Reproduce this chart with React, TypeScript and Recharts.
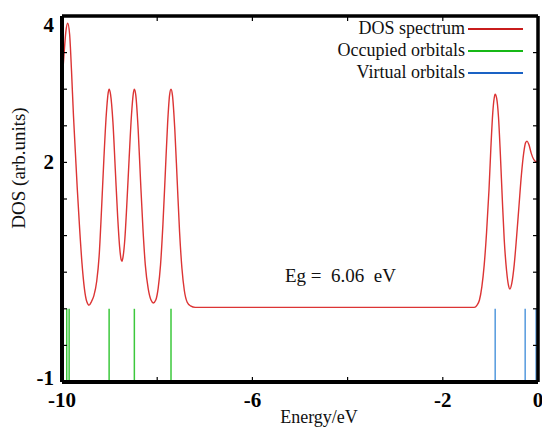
import React from 'react';
import { LineChart, Line, XAxis, YAxis, ReferenceLine } from 'recharts';

const W = 542;
const H = 434;
const SERIF = '"Liberation Serif", "Times New Roman", "DejaVu Serif", serif';

// DOS curve
const dosEnergy = [
  -10.0, -9.96, -9.92, -9.88, -9.84, -9.8, -9.76, -9.72, -9.68, -9.63, -9.58, -9.53, -9.48, -9.43, -9.38,
  -9.33, -9.27, -9.22, -9.17, -9.12, -9.07, -9.03, -9.01, -8.98, -8.93, -8.88, -8.83, -8.79, -8.76, -8.74,
  -8.72, -8.68, -8.64, -8.59, -8.54, -8.5, -8.48, -8.45, -8.4, -8.35, -8.3, -8.25, -8.19, -8.13, -8.08,
  -8.03, -7.98, -7.93, -7.88, -7.83, -7.78, -7.74, -7.71, -7.68, -7.63, -7.58, -7.53, -7.48, -7.43, -7.37,
  -7.3, -7.2, -1.34, -1.28, -1.23, -1.18, -1.13, -1.08, -1.03, -0.99, -0.95, -0.92, -0.9, -0.87, -0.83,
  -0.79, -0.75, -0.71, -0.66, -0.62, -0.59, -0.55, -0.5, -0.45, -0.4, -0.35, -0.3, -0.26, -0.23, -0.19,
  -0.14, -0.09, -0.04, 0.0,
];
const dosValue = [
  3.1, 3.45, 3.78, 3.9, 3.75, 3.25, 2.65, 2.15, 1.65, 1.1, 0.62, 0.28, 0.1, 0.05, 0.1,
  0.18, 0.38, 0.72, 1.35, 2.05, 2.65, 2.95, 3.0, 2.93, 2.55, 1.9, 1.25, 0.85, 0.68, 0.65,
  0.7, 0.95, 1.4, 2.05, 2.65, 2.95, 3.0, 2.92, 2.45, 1.75, 1.1, 0.6, 0.28, 0.12, 0.08,
  0.12, 0.28, 0.6, 1.15, 1.85, 2.55, 2.92, 3.0, 2.92, 2.45, 1.75, 1.05, 0.55, 0.25, 0.09,
  0.04, 0.02, 0.02, 0.05, 0.12, 0.3, 0.6, 1.05, 1.62, 2.2, 2.68, 2.88, 2.93, 2.88, 2.62,
  2.1, 1.5, 0.95, 0.52, 0.32, 0.27, 0.35, 0.6, 0.98, 1.4, 1.82, 2.13, 2.27, 2.29, 2.24,
  2.12, 2.04, 2.01, 2.03,
];

// orbital energies (sticks)
const occupiedOrbitals = [-9.9, -9.85, -9.01, -8.48, -7.71];
const virtualOrbitals = [-0.9, -0.27, -0.04];
const stickBottom = -1;
const stickTop = 0;

const xTicks = [-10, -8, -6, -4, -2, 0];
const xTickLabels = [-10, -6, -2, 0];
const yTicks = [-1, -0.5, 0, 0.5, 1, 1.5, 2, 2.5, 3, 3.5, 4];
const yTickLabels = [-1, 2, 4];

const legendNames = ['DOS spectrum', 'Occupied orbitals', 'Virtual orbitals'];
const legendColors = ['#c81c1c', '#16b816', '#1a62c4'];
const gapText = 'Eg =  6.06  eV';

const chartData = dosEnergy.map((e, i) => ({ energy: e, dos: dosValue[i] }));

const PLOT_TOP = 16;
const PLOT_RIGHT = W - 4;
const TICK_LEN = 5;

const XTick = ({ x, y, payload }: any) => {
  const v = payload.value;
  return (
    <g>
      <line x1={x} y1={y} x2={x} y2={y - TICK_LEN} stroke="#000" strokeWidth={1.2} />
      <line x1={x} y1={PLOT_TOP} x2={x} y2={PLOT_TOP + TICK_LEN} stroke="#000" strokeWidth={1.2} />
      {xTickLabels.includes(v) && (
        <text x={x} y={y + 25} textAnchor="middle" fontFamily={SERIF} fontWeight="bold" fontSize={21} fill="#000">
          {v}
        </text>
      )}
    </g>
  );
};

const YTick = ({ x, y, payload }: any) => {
  const v = payload.value;
  // top and bottom labels sit a little inside the frame in the original
  const shift = v === 4 ? 9 : v === -1 ? -4 : 0;
  return (
    <g>
      <line x1={x} y1={y} x2={x + TICK_LEN} y2={y} stroke="#000" strokeWidth={1.2} />
      <line x1={PLOT_RIGHT} y1={y} x2={PLOT_RIGHT - TICK_LEN} y2={y} stroke="#000" strokeWidth={1.2} />
      {yTickLabels.includes(v) && (
        <text x={x - 8} y={y + shift + 7} textAnchor="end" fontFamily={SERIF} fontWeight="bold" fontSize={21} fill="#000">
          {v}
        </text>
      )}
    </g>
  );
};

const XTitle = ({ viewBox }: any) => (
  <text x={viewBox.x + viewBox.width / 2 + 19} y={423} textAnchor="middle" fontFamily={SERIF} fontSize={18} fill="#111">
    Energy/eV
  </text>
);

const YTitle = ({ viewBox }: any) => {
  const cy = viewBox.y + viewBox.height / 2 - 31;
  return (
    <text x={25} y={cy} transform={`rotate(-90 25 ${cy})`} textAnchor="middle" fontFamily={SERIF} fontSize={19} fill="#111">
      DOS (arb.units)
    </text>
  );
};

export default function App() {
  return (
    <div style={{ position: 'absolute', left: 0, top: 0, width: W, height: H, background: '#fff' }}>
      <LineChart width={W} height={H} data={chartData} margin={{ top: PLOT_TOP, right: 4, left: 0, bottom: 0 }}>
        <XAxis
          type="number"
          dataKey="energy"
          domain={[-10, 0]}
          allowDataOverflow
          ticks={xTicks}
          interval={0}
          tickSize={0}
          tickMargin={0}
          tick={<XTick />}
          tickLine={false}
          axisLine={{ stroke: '#000', strokeWidth: 4 }}
          height={52}
          label={<XTitle />}
        />
        <YAxis
          type="number"
          domain={[-1, 4]}
          allowDataOverflow
          ticks={yTicks}
          interval={0}
          tickSize={0}
          tickMargin={0}
          tick={<YTick />}
          tickLine={false}
          axisLine={{ stroke: '#000', strokeWidth: 4 }}
          width={62}
          label={<YTitle />}
        />
        {occupiedOrbitals.map((e) => (
          <ReferenceLine
            key={'o' + e}
            segment={[{ x: e, y: stickBottom }, { x: e, y: stickTop }]}
            stroke="#3cc83c"
            strokeWidth={1.5}
          />
        ))}
        {virtualOrbitals.map((e) => (
          <ReferenceLine
            key={'v' + e}
            segment={[{ x: e, y: stickBottom }, { x: e, y: stickTop }]}
            stroke="#3a8ad8"
            strokeWidth={1.3}
          />
        ))}
        <Line
          type="monotone"
          dataKey="dos"
          stroke="#dc3434"
          strokeWidth={1.4}
          dot={false}
          isAnimationActive={false}
        />
        <ReferenceLine y={4} stroke="#000" strokeWidth={3.5} />
        <ReferenceLine x={0} stroke="#000" strokeWidth={3.5} />
      </LineChart>
      <svg width={W} height={H} style={{ position: 'absolute', left: 0, top: 0, pointerEvents: 'none' }}>
        {legendNames.map((name, i) => (
          <g key={name}>
            <text x={465} y={34 + i * 22} textAnchor="end" fontFamily={SERIF} fontSize={18} fill="#111">
              {name}
            </text>
            <line x1={468} x2={523} y1={29 + i * 22} y2={29 + i * 22} stroke={legendColors[i]} strokeWidth={2} />
          </g>
        ))}
        <text x={285} y={282} fontFamily={SERIF} fontSize={19} fill="#111" style={{ whiteSpace: 'pre' }}>
          {gapText}
        </text>
      </svg>
    </div>
  );
}
